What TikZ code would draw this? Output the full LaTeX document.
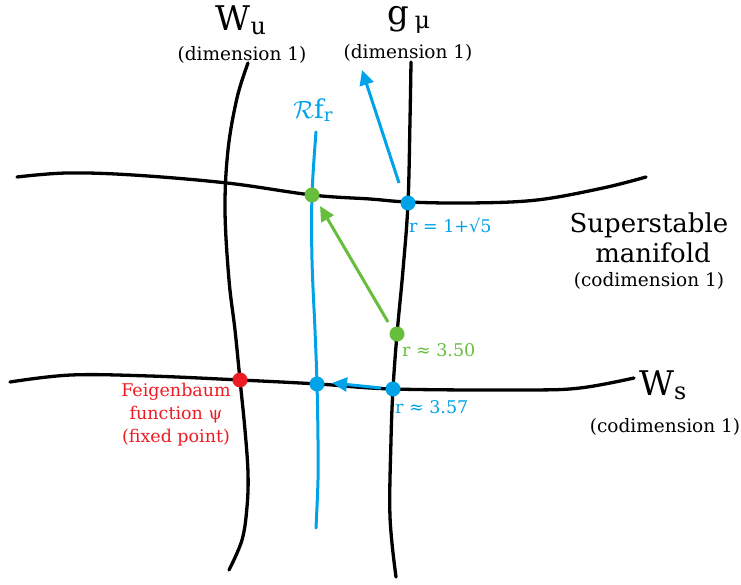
\documentclass[tikz,border=0pt]{standalone}
\usepackage{fontspec}
\setmainfont{DejaVu Serif}
\usetikzlibrary{arrows.meta}
\definecolor{cblue}{RGB}{0,162,232}
\definecolor{cgreen}{RGB}{102,190,60}
\definecolor{cred}{RGB}{237,28,36}
\tikzset{
  curveline/.style={line width=3.3pt, line cap=round},
  blueline/.style={cblue, line width=3pt, line cap=round},
  dot/.style={circle, fill=#1, minimum size=15pt, inner sep=0pt},
  arr/.style={#1, line width=3pt, -{Triangle[length=15pt,width=14pt]}},
  big/.style={font=\fontsize{34}{36}\selectfont, inner sep=0pt},
  mid/.style={font=\fontsize{26}{28}\selectfont, inner sep=0pt},
  small/.style={font=\fontsize{18.5}{20}\selectfont, inner sep=0pt},
  lab/.style={font=\fontsize{17.5}{23}\selectfont, inner sep=0pt},
}
\begin{document}
\begin{tikzpicture}[x=1pt,y=-1pt]
\useasboundingbox (0,0) rectangle (741,585);
% W_u
\draw[curveline] plot[smooth, tension=0.6] coordinates {(248,63) (237,98) (228,150) (225,210) (229,280) (235,330) (240,380) (245,430) (248,473) (247,507) (242,540) (229,570)};
% g_mu
\draw[curveline] plot[smooth, tension=0.6] coordinates {(411,62) (410,120) (408,203) (403,270) (397,334) (393,389) (391,440) (390,517) (396,577)};
% Superstable manifold
\draw[curveline] plot[smooth, tension=0.6] coordinates {(17,177) (67,173) (133,175) (227,183) (312,195) (370,199) (408,202) (470,203) (537,200) (603,188) (646,177)};
% W_s
\draw[curveline] plot[smooth, tension=0.6] coordinates {(10,382) (71,375) (150,376) (240,380) (318,384) (393,389) (524,390) (580,388) (634,378)};
% Rf_r
\draw[blueline] plot[smooth, tension=0.6] coordinates {(316,132) (312,195) (312,260) (315,330) (317,384) (318,440) (318,480) (316,528)};

% dots
\node[dot=cblue] (sb) at (408,203) {};
\node[dot=cgreen] (sg) at (312,195) {};
\node[dot=cgreen] (g2) at (397,334) {};
\node[dot=cred] (fp) at (240,380) {};
\node[dot=cblue] (rm) at (317,384) {};
\node[dot=cblue] (rr) at (393,389) {};

% arrow end points
\coordinate (a1s) at (399,183);
\coordinate (a1e) at (362,70);
\coordinate (a2s) at (388,322);
\coordinate (a2e) at (320,206);
\coordinate (a3s) at (381,388);
\coordinate (a3e) at (332,383);
\draw[arr=cblue] (a1s) -- (a1e);
\draw[arr=cgreen] (a2s) -- (a2e);
\draw[arr=cblue] (a3s) -- (a3e);

% labels
\node[big] (wu) at (241,20) {W\textsubscript{u}};
\node[small] (wud) at (242,55) {(dimension 1)};
\node[big] (gm) at (409,20) {g\,\textsubscript{μ}};
\node[small] (gmd) at (408,53) {(dimension 1)};
\node[mid, text=cblue] (rf) at (313,110) {$\mathcal{R}$f\textsubscript{r}};
\node[mid] (ss1) at (649,225) {Superstable};
\node[mid] (ss2) at (653,253) {manifold};
\node[small] (ss3) at (649,281) {(codimension 1)};
\node[big, anchor=west] (ws) at (639,385) {W\textsubscript{s}};
\node[small] (wsd) at (665,427) {(codimension 1)};
\node[lab, text=cblue, anchor=west] (l1) at (409,226) {r = 1+√5};
\node[lab, text=cgreen, anchor=west] (l2) at (402,350) {r ≈ 3.50};
\node[lab, text=cblue, anchor=west] (l3) at (395,407) {r ≈ 3.57};
\node[lab, text=cred, align=center] (fl) at (176,415) {Feigenbaum\\function ψ\\(fixed point)};
\end{tikzpicture}
\end{document}
